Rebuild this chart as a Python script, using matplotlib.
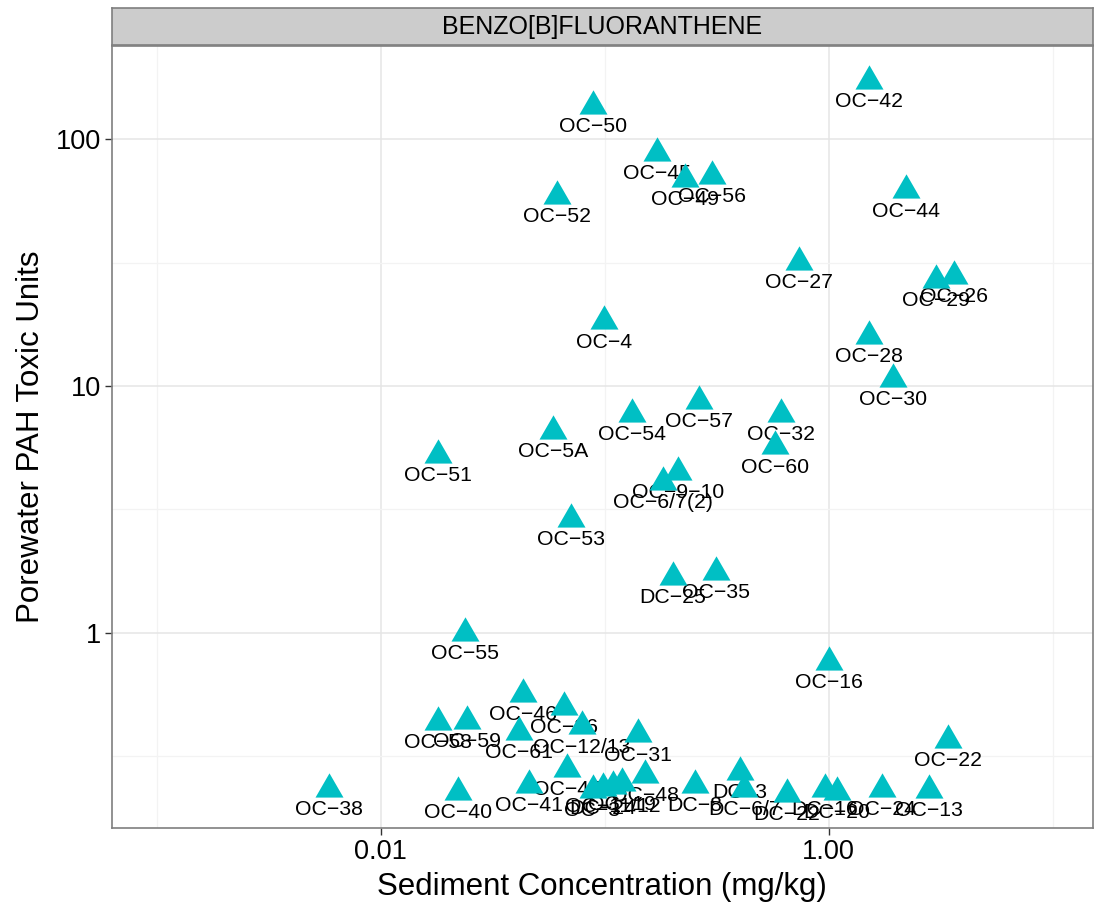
import matplotlib
matplotlib.use("Agg")
import matplotlib.pyplot as plt
import numpy as np

plt.rcParams['font.family'] = ['Liberation Sans', 'DejaVu Sans']

# station labels, sediment conc (mg/kg), porewater toxic units
stations = ["OC-42", "OC-50", "OC-45", "OC-49", "OC-56", "OC-52", "OC-44", "OC-27",
            "OC-29", "OC-26", "OC-28", "OC-30", "OC-4", "OC-57", "OC-54", "OC-5A",
            "OC-51", "OC-32", "OC-60", "OC-9-10", "OC-6/7(2)", "OC-53", "OC-35", "DC-25",
            "OC-55", "OC-16", "OC-22", "OC-46", "OC-36", "OC-12/13", "OC-61", "OC-58",
            "OC-59", "OC-31", "OC-38", "OC-40", "OC-41", "OC-47", "OC-48",
            "OC-3", "DC-24", "OC-11/12", "OC-19", "DC-8", "DC-3", "DC-6/7", "DC-22",
            "DC-16", "DC-20", "OC-24", "OC-13"]
sediment = [1.51, 0.089, 0.171, 0.228, 0.303, 0.061, 2.21, 0.734,
            3.03, 3.65, 1.52, 1.93, 0.099, 0.263, 0.132, 0.0586,
            0.0181, 0.616, 0.574, 0.212, 0.182, 0.0705, 0.313, 0.201,
            0.0239, 1.00, 3.43, 0.043, 0.0656, 0.0789, 0.0413, 0.0180,
            0.0242, 0.141, 0.00586, 0.0221, 0.0458, 0.0676, 0.152,
            0.0883, 0.098, 0.1087, 0.120, 0.252, 0.401, 0.421, 0.649,
            0.959, 1.087, 1.73, 2.82]
toxic_units = [172, 136, 88, 69, 71, 59, 62, 31.8,
               27.0, 28.0, 16.0, 10.7, 18.3, 8.7, 7.7, 6.6,
               5.25, 7.7, 5.7, 4.5, 4.1, 2.9, 1.77, 1.69,
               1.0, 0.765, 0.37, 0.566, 0.503, 0.418, 0.398, 0.437,
               0.441, 0.388, 0.234, 0.227, 0.243, 0.281, 0.266,
               0.231, 0.236, 0.241, 0.246, 0.243, 0.274, 0.234, 0.223,
               0.234, 0.227, 0.234, 0.231]

fig = plt.figure(figsize=(10.95, 9.13), dpi=100)
ax = fig.add_axes([0.1023, 0.0931, 0.8957, 0.8565])

# triangle centred on its centroid, like R pch 17
tri = [(-1, -0.577), (1, -0.577), (0, 1.155)]
ax.plot(sediment, toxic_units, linestyle='none', marker=tri, markersize=23.3,
        color='#00BFC4', markeredgewidth=0, zorder=4)
for lab, x, y in zip(stations, sediment, toxic_units):
    ax.annotate(lab.replace('-', '\u2212'), (x, y), xytext=(0, -15), textcoords='offset points',
                ha='center', va='center', fontsize=15.3, color='black', zorder=3)

ax.set_xscale('log')
ax.set_yscale('log')
ax.set_xlim(10 ** -3.2, 10 ** 1.18)
ax.set_ylim(10 ** -0.79, 10 ** 2.377)

ax.set_xticks([0.01, 1.0])
ax.set_xticklabels(['0.01', '1.00'])
ax.set_xticks([0.001, 0.1, 10], minor=True)
ax.set_xticklabels([], minor=True)
ax.set_yticks([1, 10, 100])
ax.set_yticklabels(['1', '10', '100'])
ax.set_yticks([10 ** -0.5, 10 ** 0.5, 10 ** 1.5], minor=True)
ax.set_yticklabels([], minor=True)

ax.grid(which='major', color='#E5E5E5', linewidth=1.1, zorder=0)
ax.grid(which='minor', color='#F3F3F3', linewidth=0.9, zorder=0)
ax.set_axisbelow(True)
ax.tick_params(which='major', length=5, width=1, color='#333333', labelsize=19.5,
               labelcolor='black', pad=3)
ax.tick_params(which='minor', length=0)
for s in ax.spines.values():
    s.set_color('#7F7F7F')
    s.set_linewidth(1.2)

ax.set_xlabel('Sediment Concentration (mg/kg)', fontsize=22.5, labelpad=5)
ax.set_ylabel('Porewater PAH Toxic Units', fontsize=22.5, labelpad=7)

# facet strip
strip = fig.add_axes([0.1023, 0.9507, 0.8957, 0.0405])
strip.set_facecolor('#CCCCCC')
strip.set_xticks([])
strip.set_yticks([])
for s in strip.spines.values():
    s.set_color('#7F7F7F')
    s.set_linewidth(1.2)
strip.text(0.5, 0.5, 'BENZO[B]FLUORANTHENE', ha='center', va='center', fontsize=18,
           transform=strip.transAxes)

fig.savefig('out.png', dpi=100)
